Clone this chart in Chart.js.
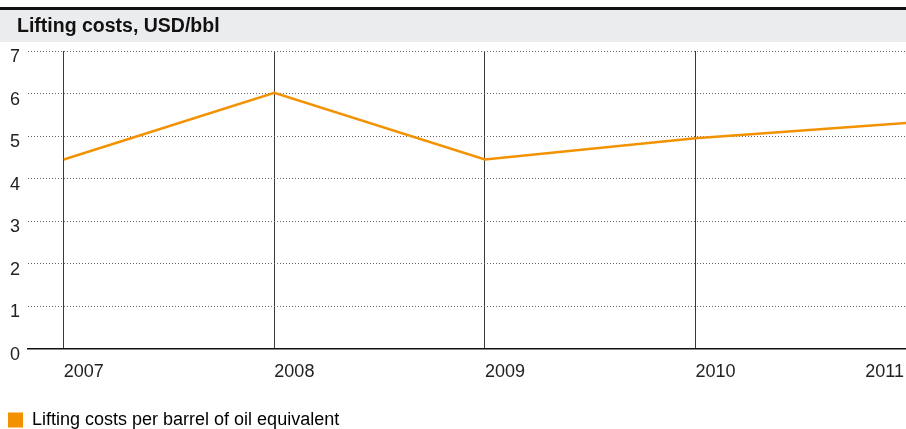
<!DOCTYPE html>
<html>
<head>
<meta charset="utf-8">
<script src="https://cdn.jsdelivr.net/npm/chart.js@4"></script>
<style>
  html, body { margin: 0; background: #fff; }
  #wrap { position: relative; width: 906px; height: 429px; }
</style>
</head>
<body>
<div id="wrap"><canvas id="liftingChart"></canvas></div>
<script>
const chartTitle = "Lifting costs, USD/bbl";
const seriesLabel = "Lifting costs per barrel of oil equivalent";
const years = [2007, 2008, 2009, 2010, 2011];
const liftingCosts = [4.45, 6.02, 4.45, 4.95, 5.31];
const yTicks = [0, 1, 2, 3, 4, 5, 6, 7];

const ORANGE = "#f39200";
const FONT = '"Liberation Sans", Arial, sans-serif';

Chart.defaults.font.family = FONT;
Chart.defaults.color = "#222";

/* ================= TITLE BAR ================= */
const titleBar = {
    id: "titleBar",
    beforeDraw(chart) {
        const { ctx, width } = chart;
        ctx.save();
        ctx.fillStyle = "#111";
        ctx.fillRect(0, 7, width, 3);
        ctx.fillStyle = "#ebecee";
        ctx.fillRect(0, 10, width, 32);
        ctx.font = `bold 19.5px ${FONT}`;
        ctx.fillStyle = "#111";
        ctx.textBaseline = "alphabetic";
        ctx.fillText(chartTitle, 17, 32);
        ctx.restore();
    }
};

/* ================= YEAR LABELS (left aligned at the tick, last one right aligned) ================= */
const yearLabels = {
    id: "yearLabels",
    afterDraw(chart) {
        const { ctx, chartArea, scales } = chart;
        const x = scales.x;
        ctx.save();
        ctx.font = `18px ${FONT}`;
        ctx.fillStyle = "#222";
        ctx.textBaseline = "alphabetic";
        years.forEach((yr, i) => {
            const last = i === years.length - 1;
            ctx.textAlign = last ? "right" : "left";
            const px = last ? chartArea.right - 2 : x.getPixelForValue(yr);
            ctx.fillText(String(yr), px, chartArea.bottom + 28);
        });
        ctx.restore();
    }
};

new Chart(document.getElementById("liftingChart"), {
    type: "line",
    data: {
        datasets: [{
            label: seriesLabel,
            data: years.map((yr, i) => ({ x: yr, y: liftingCosts[i] })),
            borderColor: ORANGE,
            backgroundColor: ORANGE,
            borderWidth: 2.5,
            pointRadius: 0,
            tension: 0,
            fill: false
        }]
    },
    options: {
        responsive: true,
        maintainAspectRatio: false,
        animation: false,
        layout: { padding: { top: 51, left: 6, right: 0, bottom: -10 } },
        plugins: {
            legend: {
                position: "bottom",
                align: "start",
                labels: {
                    boxWidth: 15,
                    boxHeight: 15,
                    padding: 2,
                    color: "#2a2a2a",
                    font: { size: 18 },
                    generateLabels: () => [{
                        text: seriesLabel,
                        fillStyle: ORANGE,
                        strokeStyle: ORANGE,
                        lineWidth: 0,
                        datasetIndex: 0
                    }]
                }
            },
            tooltip: { enabled: false }
        },
        scales: {
            x: {
                type: "linear",
                min: 2006.83,
                max: 2011,
                afterBuildTicks: (scale) => { scale.ticks = years.map(v => ({ value: v })); },
                afterFit: (scale) => { scale.height = 60; },
                ticks: { display: false },
                grid: {
                    drawTicks: false,
                    lineWidth: 1,
                    color: (ctx) => ctx.index === years.length - 1 ? "transparent" : "#3a3a3a"
                },
                border: { display: true, color: "#111", width: 1.5 }
            },
            y: {
                min: 0,
                max: 7,
                afterBuildTicks: (scale) => { scale.ticks = yTicks.map(v => ({ value: v })); },
                afterFit: (scale) => { scale.width = 22; },
                ticks: {
                    padding: 8,
                    labelOffset: 6,
                    color: "#222",
                    font: { size: 18 }
                },
                grid: {
                    drawTicks: false,
                    lineWidth: 1,
                    color: (ctx) => ctx.tick && ctx.tick.value === 0 ? "transparent" : "#666"
                },
                border: { display: false, dash: [1, 2] }
            }
        }
    },
    plugins: [titleBar, yearLabels]
});
</script>
</body>
</html>
